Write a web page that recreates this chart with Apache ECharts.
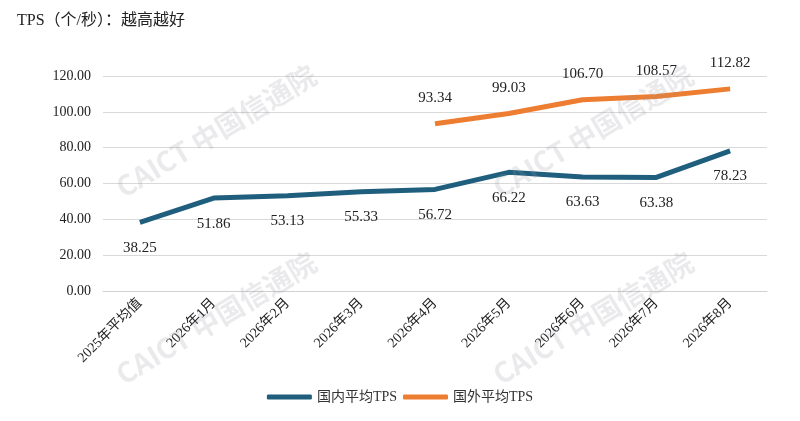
<!DOCTYPE html>
<html>
<head>
<meta charset="utf-8">
<script src="https://cdn.jsdelivr.net/npm/echarts@6/dist/echarts.min.js"></script>
<style>
  html, body { margin: 0; padding: 0; background: #fff; }
  #chart { width: 800px; height: 421px; }
</style>
</head>
<body>
<div id="chart"></div>
<script>
const categories = ['2025年平均值', '2026年1月', '2026年2月', '2026年3月', '2026年4月', '2026年5月', '2026年6月', '2026年7月', '2026年8月']
const domestic = [38.25, 51.86, 53.13, 55.33, 56.72, 66.22, 63.63, 63.38, 78.23]
const foreign = [null, null, null, null, 93.34, 99.03, 106.70, 108.57, 112.82]
const seriesNames = ['国内平均TPS', '国外平均TPS']

const fontFam = '"Liberation Serif", "Noto Sans CJK SC", serif'

// 水印
const marks = [[216, 131], [216, 318], [593, 131], [593, 318]].map(p => ({
  type: 'text',
  x: p[0],
  y: p[1],
  rotation: Math.PI * 31 / 180,
  z: 100,
  style: {
    text: 'CAICT 中国信通院',
    font: 'bold 28px "Noto Sans CJK SC", sans-serif',
    fill: 'rgba(150,150,160,0.2)',
    align: 'center',
    verticalAlign: 'middle'
  }
}))

const chart = echarts.init(document.getElementById('chart'))
const option = {
  animation: false,
  title: {
    text: 'TPS（个/秒）：越高越好',
    left: 12,
    top: 8,
    textStyle: { fontFamily: fontFam, fontSize: 16, fontWeight: 'normal', color: '#222' }
  },
  legend: {
    bottom: 12,
    left: 'center',
    itemWidth: 45,
    itemHeight: 5,
    itemGap: 6,
    icon: 'roundRect',
    textStyle: { fontFamily: fontFam, fontSize: 14, color: '#333' },
    data: seriesNames
  },
  grid: { left: 103, right: 33, top: 76, bottom: 130 },
  xAxis: {
    type: 'category',
    data: categories,
    axisTick: { show: false },
    axisLine: { lineStyle: { color: '#d0d0d0' } },
    axisLabel: { rotate: 45, interval: 0, fontFamily: fontFam, fontSize: 14, color: '#222', margin: 10 }
  },
  yAxis: {
    type: 'value',
    min: 0,
    max: 120,
    interval: 20,
    axisLabel: { formatter: v => v.toFixed(2), fontFamily: fontFam, fontSize: 14, color: '#222', margin: 12 },
    splitLine: { lineStyle: { color: '#d9d9d9' } }
  },
  series: [
    {
      name: seriesNames[0],
      type: 'line',
      data: domestic,
      symbol: 'circle',
      symbolSize: 0,
      lineStyle: { width: 5, color: '#1f5f7d' },
      itemStyle: { color: '#1f5f7d' },
      label: {
        show: true,
        position: 'bottom',
        distance: 18,
        formatter: p => p.value.toFixed(2),
        fontFamily: fontFam,
        fontSize: 15,
        color: '#222'
      }
    },
    {
      name: seriesNames[1],
      type: 'line',
      data: foreign,
      symbol: 'circle',
      symbolSize: 0,
      lineStyle: { width: 5, color: '#ed7d31' },
      itemStyle: { color: '#ed7d31' },
      label: {
        show: true,
        position: 'top',
        distance: 18,
        formatter: p => p.value.toFixed(2),
        fontFamily: fontFam,
        fontSize: 15,
        color: '#222'
      }
    }
  ],
  graphic: marks
}
chart.setOption(option)
</script>
</body>
</html>
